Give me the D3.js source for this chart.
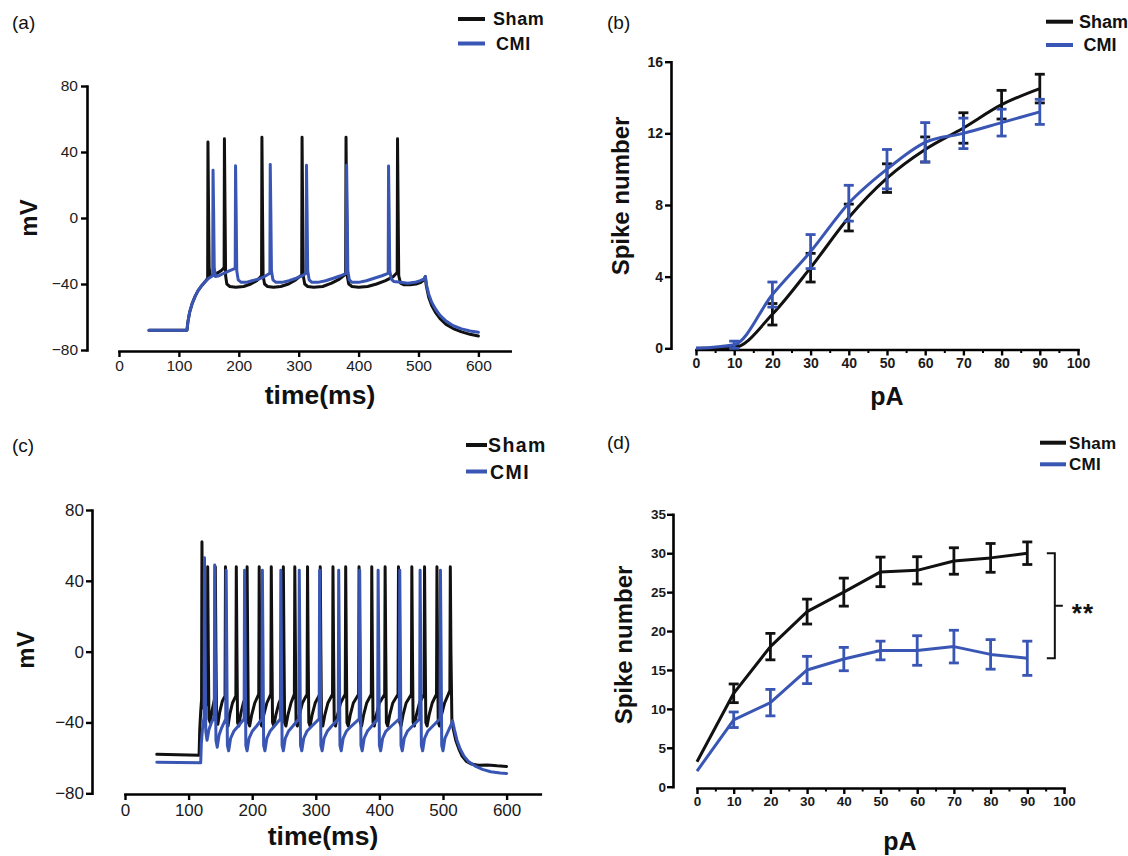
<!DOCTYPE html>
<html>
<head>
<meta charset="utf-8">
<script src="https://cdn.jsdelivr.net/npm/d3@7"></script>
<style>
  html, body { margin: 0; padding: 0; background: #fff; }
  svg { display: block; }
</style>
</head>
<body>
<script>
// ---------------- DATA ----------------
const seriesNames = ["Sham", "CMI"];

// Panel (a): membrane potential traces [time (ms), mV]
const aShamTrace = [
  [50,-68],[113.5,-68],[115,-63],[118,-57],[122,-52],[127,-47.5],[132,-44],[138,-41],[144,-38.5],[148,-36.5],
  [148.5,46],[149.5,5],[150.5,-30],[152,-35],[158,-34.5],[166,-33],[172,-31.5],[175.5,-30],
  [176,48],[177,5],[178,-35],[180,-40],[185,-41.5],[195,-42],[208,-41.5],[220,-40],[230,-38],[238,-35],
  [238.6,49],[239.6,5],[240.6,-35],[243,-40],[248,-41.5],[258,-42],[270,-41.5],[283,-40],[295,-37.5],[305,-34.5],
  [305.6,49],[306.6,5],[307.6,-35],[310,-40],[315,-41.5],[325,-42],[340,-41.5],[355,-39.5],[368,-37],[378.4,-34],
  [379,49],[380,5],[381,-35],[383.5,-40],[389,-41.5],[400,-42],[415,-41.5],[430,-40],[445,-38],[458,-35.5],[464.4,-33],
  [465,48],[466,5],[467,-35],[470,-39.5],[476,-40.5],[486,-40.5],[496,-40],[504,-39],[509,-37.5],[511.5,-35.5],
  [513,-41],[517,-48],[522,-53],[528,-57],[536,-61],[546,-64.5],[558,-67],[572,-69],[586,-70.5],[600,-71.5]
];
const aCmiTrace = [
  [50,-68],[113.5,-68],[115,-63],[118,-57],[122,-52],[127,-47.5],[132,-44],[138,-41],[144,-38.5],[150,-36.5],[156.4,-35],
  [157,29],[158,3],[159,-30],[161,-35.5],[167,-35],[175,-33.5],[184,-32],[194,-30.5],
  [194.6,31.7],[195.6,3],[196.6,-32],[199,-37.5],[204,-39],[212,-39],[222,-38],[233,-37],[243,-35.5],[251.9,-33.5],
  [252.5,32.5],[253.5,3],[254.5,-32],[257,-37.5],[262,-39],[272,-39],[284,-38],[296,-36.5],[306,-35],[312.4,-33.5],
  [313,32],[314,3],[315,-32],[317.5,-37.5],[322,-39],[332,-39],[345,-38],[358,-36.5],[370,-35],[379.4,-33.5],
  [380,32],[381,3],[382,-32],[384.5,-37.5],[389,-39],[400,-39],[413,-38],[426,-36.5],[439,-35],[449.4,-33.5],
  [450,31.5],[451,3],[452,-32],[454.5,-37],[459,-38.5],[470,-39],[482,-39.5],[494,-39],[503,-38],[509,-37],[511.5,-35.5],
  [513,-40],[517,-46],[522,-51],[528,-55],[536,-59],[546,-62.5],[558,-65.3],[572,-67.2],[586,-68.5],[600,-69.3]
];

// Panel (c): membrane potential traces [time (ms), mV]
const cShamTrace = [
  [50,-58],[116.5,-58.5],[117.5,-44],[119,-34],[120.4,-27],[121,62],[122,8],[123,-31],[125,-33],[128,-29],[129.4,-27],
  [130,48],[131,0],[132,-38],[134,-40],[137,-33],[141.3,-26],
  [142,48],[143,0],[144,-39],[146,-41],[149,-34],[153,-28],[157.3,-25],
  [158,48],[159,0],[160,-40],[162,-42],[165,-35],[169,-29],[174.3,-25],
  [175,48],[176,0],[177,-40],[179,-42],[182,-35],[186,-29],[191.3,-24],
  [192,48],[193,0],[194,-40],[196,-42],[199,-36],[204,-29],[210.3,-24],
  [211,48],[212,0],[213,-40],[215,-42],[218,-36],[223,-29],[229.3,-24],
  [230,48],[231,0],[232,-40],[234,-42],[237,-36],[242,-29],[248.3,-24],
  [249,48],[250,0],[251,-40],[253,-42],[256,-36],[261,-29],[266.3,-24],
  [267,48],[268,0],[269,-40],[271,-42],[274,-36],[279,-29],[286.3,-24],
  [287,48],[288,0],[289,-40],[291,-42],[294,-36],[299,-29],[306.3,-24],
  [307,48],[308,0],[309,-40],[311,-42],[314,-36],[319,-29],[326.3,-24],
  [327,48],[328,0],[329,-40],[331,-42],[334,-36],[339,-29],[346.3,-24],
  [347,48],[348,0],[349,-40],[351,-42],[354,-36],[359,-29],[367.3,-24],
  [368,48],[369,0],[370,-40],[372,-42],[375,-36],[380,-29],[387.3,-24],
  [388,48],[389,0],[390,-40],[392,-42],[395,-36],[400,-29],[408.3,-24],
  [409,48],[410,0],[411,-40],[413,-42],[416,-36],[421,-29],[429.3,-24],
  [430,48],[431,0],[432,-40],[434,-42],[437,-36],[442,-29],[450.3,-24],
  [451,48],[452,0],[453,-40],[455,-42],[458,-36],[463,-29],[470.3,-24],
  [471,48],[472,0],[473,-40],[475,-42],[478,-36],[483,-29],[489.8,-24],
  [490.5,48],[491.5,0],[492.5,-40],[494.5,-42],[497.5,-36],[502.5,-29],[510.8,-22],
  [511.5,48],[512.5,0],[514,-40],[517,-45],[520,-50],[525,-55],[530,-59],[537,-62],[545,-63.5],[555,-64.2],[570,-64],[585,-64.5],[600,-64.8]
];
const cCmiTrace = [
  [50,-62.5],[119,-62.8],[120,-52],[121.5,-45],[123,-40],[124.4,-37],[125,53],[126,5],[127,-45],[129,-50],[132,-44],[136,-40],[140.4,-37],
  [141,49],[142,0],[143,-50],[145,-54],[148,-47],[152,-43],[158.4,-38],
  [159,46],[160,0],[161,-53],[163,-56],[166,-49],[171,-45],[178,-42],[187.3,-38],
  [188,46],[189,0],[190,-53],[192,-56],[195,-49],[200,-45],[207,-42],[215.3,-38],
  [216,46],[217,0],[218,-53],[220,-56],[223,-49],[228,-45],[235,-42],[244.3,-38],
  [245,46],[246,0],[247,-53],[249,-56],[252,-49],[257,-45],[264,-42],[273.3,-38],
  [274,46],[275,0],[276,-53],[278,-56],[281,-49],[286,-45],[294,-42],[305.3,-38],
  [306,46],[307,0],[308,-53],[310,-56],[313,-49],[318,-45],[325,-42],[335.3,-38],
  [336,46],[337,0],[338,-53],[340,-56],[343,-49],[348,-45],[356,-42],[368.3,-38],
  [369,46],[370,0],[371,-53],[373,-56],[376,-49],[381,-45],[388,-42],[397.3,-38],
  [398,46],[399,0],[400,-53],[402,-56],[405,-49],[410,-45],[419,-42],[431.3,-38],
  [432,46],[433,0],[434,-53],[436,-56],[439,-49],[444,-45],[452,-42],[463.3,-38],
  [464,46],[465,0],[466,-53],[468,-56],[471,-49],[476,-45],[484,-42],[495.3,-38],
  [496,46],[497,0],[498,-53],[500,-56],[503,-49],[508,-45],[514.3,-40],[515,-39],
  [518,-44],[522,-50],[527,-55],[533,-59],[540,-62],[550,-64.5],[562,-66.5],[575,-67.8],[590,-68.5],[600,-68.8]
];
const traceXTicks = [0,100,200,300,400,500,600];
const traceYTicks = [-80,-40,0,40,80];

// Panels (b) and (d): injected current (pA) vs spike number
const currents = [0,10,20,30,40,50,60,70,80,90];
const bSham    = [0, 0.05, 1.9, 4.5, 7.3, 9.5, 11.1, 12.3, 13.6, 14.5];
const bShamErr = [0, 0.1, 0.6, 0.8, 0.75, 0.8, 0.7, 0.85, 0.8, 0.8];
const bCmi     = [0, 0.2, 3.0, 5.4, 8.1, 10.0, 11.5, 12.0, 12.6, 13.2];
const bCmiErr  = [0, 0.2, 0.7, 0.95, 1.0, 1.1, 1.1, 0.85, 0.75, 0.7];
const dSham    = [3.2, 12, 18, 22.5, 25, 27.6, 27.8, 29, 29.4, 30];
const dShamErr = [0, 1.2, 1.7, 1.6, 1.8, 1.9, 1.75, 1.7, 1.85, 1.45];
const dCmi     = [2, 8.6, 10.8, 15, 16.4, 17.5, 17.5, 18, 17, 16.5];
const dCmiErr  = [0, 1.0, 1.7, 1.75, 1.5, 1.2, 1.9, 2.1, 1.9, 2.2];
const fiXTicks = [0,10,20,30,40,50,60,70,80,90,100];
const fiXMinor = [5,15,25,35,45,55,65,75,85,95];
const bYTicks = [0,4,8,12,16];
const dYTicks = [0,5,10,15,20,25,30,35];
const sigLabel = "**";

// ---------------- STYLE ----------------
const FONT = '"Liberation Sans", Arial, Helvetica, sans-serif';
const BLACK = "#111111";
const BLUE = "#3a56b4";
const colors = [BLACK, BLUE];

const svg = d3.select("body").append("svg")
  .attr("width", 1128).attr("height", 856)
  .style("background", "#fff");

function styleAxis(g, fontSize, bold, color) {
  g.select(".domain").attr("stroke", "#000").attr("stroke-width", 2.6).attr("stroke-linecap", "square");
  g.selectAll(".tick line").attr("stroke", "#000").attr("stroke-width", 2.4);
  g.selectAll(".tick text")
    .attr("fill", color || "#1a1a1a")
    .style("font-family", FONT)
    .style("font-size", fontSize + "px")
    .style("font-weight", bold ? "bold" : "normal");
}

function drawAxes(cfg) {
  const gy = svg.append("g").attr("transform", `translate(${cfg.yAxisX},0)`)
    .call(d3.axisLeft(cfg.y).tickValues(cfg.yTicks).tickSize(6).tickSizeOuter(0).tickPadding(cfg.yPad));
  styleAxis(gy, cfg.tickFont, cfg.bold);
  const gx = svg.append("g").attr("transform", `translate(0,${cfg.xAxisY})`)
    .call(d3.axisBottom(cfg.x).tickValues(cfg.xTicks).tickSize(6).tickSizeOuter(0).tickPadding(cfg.xPad));
  styleAxis(gx, cfg.tickFont, cfg.bold);
  if (cfg.xMinor) {
    const gm = svg.append("g").attr("transform", `translate(0,${cfg.xAxisY})`)
      .call(d3.axisBottom(cfg.x).tickValues(cfg.xMinor).tickSize(3.5).tickFormat(""));
    gm.select(".domain").remove();
    gm.selectAll(".tick line").attr("stroke", "#000").attr("stroke-width", 2);
  }
}

function text(x, y, s, size, weight, opts) {
  opts = opts || {};
  const t = svg.append("text")
    .attr("x", x).attr("y", y)
    .attr("text-anchor", opts.anchor || "start")
    .attr("fill", opts.fill || "#111")
    .style("font-family", FONT)
    .style("font-size", size + "px")
    .style("font-weight", weight)
    .text(s);
  if (opts.ls) t.style("letter-spacing", opts.ls + "px");
  if (opts.rotate) t.attr("transform", `rotate(-90,${x},${y})`);
  return t;
}

function legend(lx0, lx1, ys, tx, size, ls) {
  seriesNames.forEach((n, i) => {
    svg.append("line").attr("x1", lx0).attr("x2", lx1).attr("y1", ys[i]).attr("y2", ys[i])
      .attr("stroke", colors[i]).attr("stroke-width", 4);
    text(tx[i], ys[i] + size * 0.36, n, size, "bold", {ls: ls});
  });
}

function drawTrace(x, y, data, color) {
  svg.append("path").datum(data)
    .attr("d", d3.line().x(d => x(d[0])).y(d => y(d[1])))
    .attr("fill", "none").attr("stroke", color).attr("stroke-width", 3)
    .attr("stroke-linejoin", "round").attr("stroke-linecap", "round");
}

function drawFI(x, y, means, errs, color, curve) {
  const pts = currents.map((c, i) => ({c, m: means[i], e: errs[i]}));
  svg.append("path").datum(pts)
    .attr("d", d3.line().x(d => x(d.c)).y(d => y(d.m)).curve(curve))
    .attr("fill", "none").attr("stroke", color).attr("stroke-width", 3)
    .attr("stroke-linejoin", "round");
  const g = svg.append("g").attr("stroke", color).attr("stroke-width", 2.8);
  pts.filter(d => d.e > 0).forEach(d => {
    const cx = x(d.c), y0 = y(d.m - d.e), y1 = y(d.m + d.e);
    g.append("line").attr("x1", cx).attr("x2", cx).attr("y1", y0).attr("y2", y1);
    g.append("line").attr("x1", cx - 5).attr("x2", cx + 5).attr("y1", y0).attr("y2", y0);
    g.append("line").attr("x1", cx - 5).attr("x2", cx + 5).attr("y1", y1).attr("y2", y1);
  });
}

// ---------------- PANEL (a) ----------------
{
  const x = d3.scaleLinear().domain([0, 653]).range([119, 119 + 653 * 0.599]);
  const y = d3.scaleLinear().domain([-80, 80]).range([350, 86]);
  drawAxes({x, y, yAxisX: 87, xAxisY: 351, yTicks: traceYTicks, xTicks: traceXTicks,
            tickFont: 15.5, bold: false, yPad: 3, xPad: 3});
  drawTrace(x, y, aShamTrace, BLACK);
  drawTrace(x, y, aCmiTrace, BLUE);
  text(12, 29, "(a)", 19, "normal");
  legend(458, 485, [19, 43.5], [493, 496], 18, 0.6);
  text(37, 218, "mV", 24, "bold", {anchor: "middle", rotate: true});
  text(320, 404, "time(ms)", 26.5, "bold", {anchor: "middle"});
}

// ---------------- PANEL (c) ----------------
{
  const x = d3.scaleLinear().domain([0, 653]).range([125, 125 + 653 * 0.636]);
  const y = d3.scaleLinear().domain([-80, 80]).range([793.3, 510]);
  drawAxes({x, y, yAxisX: 92, xAxisY: 794, yTicks: traceYTicks, xTicks: traceXTicks,
            tickFont: 17, bold: false, yPad: 2, xPad: 4});
  drawTrace(x, y, cShamTrace, BLACK);
  drawTrace(x, y, cCmiTrace, BLUE);
  text(12, 452, "(c)", 19, "normal");
  legend(466, 487, [445, 471.5], [488, 490], 19.5, 1.4);
  text(34, 650, "mV", 24, "bold", {anchor: "middle", rotate: true});
  text(323, 845, "time(ms)", 26.5, "bold", {anchor: "middle"});
}

// ---------------- PANEL (b) ----------------
{
  const x = d3.scaleLinear().domain([0, 100]).range([696, 1078]);
  const y = d3.scaleLinear().domain([0, 16]).range([348.3, 61.7]);
  drawAxes({x, y, yAxisX: 671, xAxisY: 349.5, yTicks: bYTicks, xTicks: fiXTicks, xMinor: fiXMinor,
            tickFont: 14, bold: true, yPad: 2, xPad: 3});
  drawFI(x, y, bSham, bShamErr, BLACK, d3.curveMonotoneX);
  drawFI(x, y, bCmi, bCmiErr, BLUE, d3.curveMonotoneX);
  text(607, 29, "(b)", 19, "normal");
  legend(1046, 1073, [21.7, 45], [1079, 1083.5], 18, 0);
  text(629, 196, "Spike number", 24, "bold", {anchor: "middle", rotate: true});
  text(887, 405, "pA", 25, "bold", {anchor: "middle"});
}

// ---------------- PANEL (d) ----------------
{
  const x = d3.scaleLinear().domain([0, 100]).range([697, 1064]);
  const y = d3.scaleLinear().domain([0, 35]).range([786.7, 514.3]);
  drawAxes({x, y, yAxisX: 673, xAxisY: 788, yTicks: dYTicks, xTicks: fiXTicks, xMinor: fiXMinor,
            tickFont: 13.5, bold: true, yPad: 1, xPad: 2});
  drawFI(x, y, dSham, dShamErr, BLACK, d3.curveLinear);
  drawFI(x, y, dCmi, dCmiErr, BLUE, d3.curveLinear);
  text(607, 449, "(d)", 19, "normal");
  legend(1040, 1066, [442.7, 464.3], [1069, 1069], 17, 0.3);
  text(632, 645, "Spike number", 24, "bold", {anchor: "middle", rotate: true});
  text(900, 850, "pA", 25, "bold", {anchor: "middle"});

  // significance bracket between the two curves at the last current step
  const last = currents.length - 1;
  const bx = x(97.5), yTop = y(dSham[last]), yBot = y(dCmi[last]), yMid = (yTop + yBot) / 2;
  svg.append("path")
    .attr("d", `M${bx - 8},${yTop}H${bx}V${yBot}H${bx - 8}M${bx},${yMid}H${bx + 8}`)
    .attr("fill", "none").attr("stroke", "#111").attr("stroke-width", 2);
  text(bx + 17, yMid + 16, sigLabel, 26, "bold", {ls: 1});
}
</script>
</body>
</html>
